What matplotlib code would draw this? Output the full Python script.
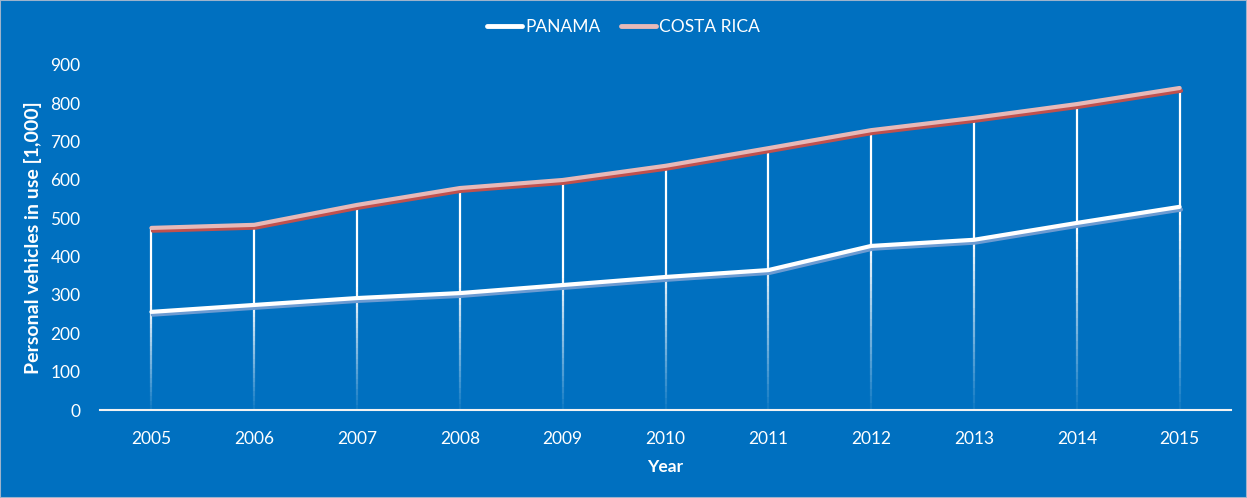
import numpy as np
import matplotlib.pyplot as plt
import matplotlib.patheffects as pe
from matplotlib.collections import LineCollection

plt.rcParams['font.family'] = ['Lato', 'DejaVu Sans']

# data
years = [2005, 2006, 2007, 2008, 2009, 2010, 2011, 2012, 2013, 2014, 2015]
panama = [256, 274, 292, 305, 326, 347, 365, 428, 444, 488, 530]
costa_rica = [475, 483, 535, 579, 600, 637, 683, 730, 762, 798, 840]

bg = '#0070C0'
fig = plt.figure(figsize=(12.47, 4.98), dpi=100, facecolor=bg)
ax = fig.add_axes([0.0802, 0.1767, 0.907, 0.6928])
ax.set_facecolor(bg)

# drop lines, fading toward the bottom
n = 40
segs, cols = [], []
for x, a, b in zip(years, panama, costa_rica):
    top = max(a, b)
    edges = np.linspace(0, top, n + 1)
    for i in range(n):
        segs.append([(x, edges[i]), (x, edges[i + 1])])
        f = (i + 0.5) / n
        cols.append((1, 1, 1, min(1.0, 0.05 + 1.6 * f)))
ax.add_collection(LineCollection(segs, colors=cols, linewidths=1.6, zorder=2))

ax.plot(years, panama, color='white', lw=3, solid_capstyle='round', zorder=3,
        label='PANAMA',
        path_effects=[pe.SimpleLineShadow(offset=(1, -2), shadow_color='#6C9BD2', alpha=1),
                      pe.Normal()])
ax.plot(years, costa_rica, color='#E6B9B8', lw=3, solid_capstyle='round', zorder=3,
        label='COSTA RICA',
        path_effects=[pe.SimpleLineShadow(offset=(1, -2), shadow_color='#C0504D', alpha=1),
                      pe.Normal()])

ax.set_xlim(2004.5, 2015.5)
ax.set_ylim(0, 900)
ax.set_xticks(years)
ax.set_yticks(range(0, 901, 100))
for s in ['top', 'right', 'left']:
    ax.spines[s].set_visible(False)
ax.spines['bottom'].set_color('#F2F2F2')
ax.spines['bottom'].set_linewidth(1.5)
ax.tick_params(axis='both', length=0, colors='white', labelsize=12.5)
ax.tick_params(axis='x', pad=15)
ax.tick_params(axis='y', pad=14)
ax.set_xlabel('Year', color='white', fontsize=12.5, fontweight='bold', labelpad=9)
ax.set_ylabel('Personal vehicles in use [1,000]', color='white', fontsize=14,
              fontweight='bold', labelpad=6)

leg = fig.legend(loc='center', bbox_to_anchor=(0.5, 0.946), ncol=2, frameon=False,
                 fontsize=12.5, handlelength=2.0, columnspacing=1.2, handletextpad=0.2)
for t in leg.get_texts():
    t.set_color('white')
for h in leg.legend_handles:
    h.set_path_effects([pe.Normal()])
    h.set_linewidth(3.5)

fig.patches.append(plt.Rectangle((0, 0), 1, 1, transform=fig.transFigure, fill=False,
                                 edgecolor='#9DB3CC', lw=1.5))

fig.savefig('out.png', dpi=100, facecolor=bg)
